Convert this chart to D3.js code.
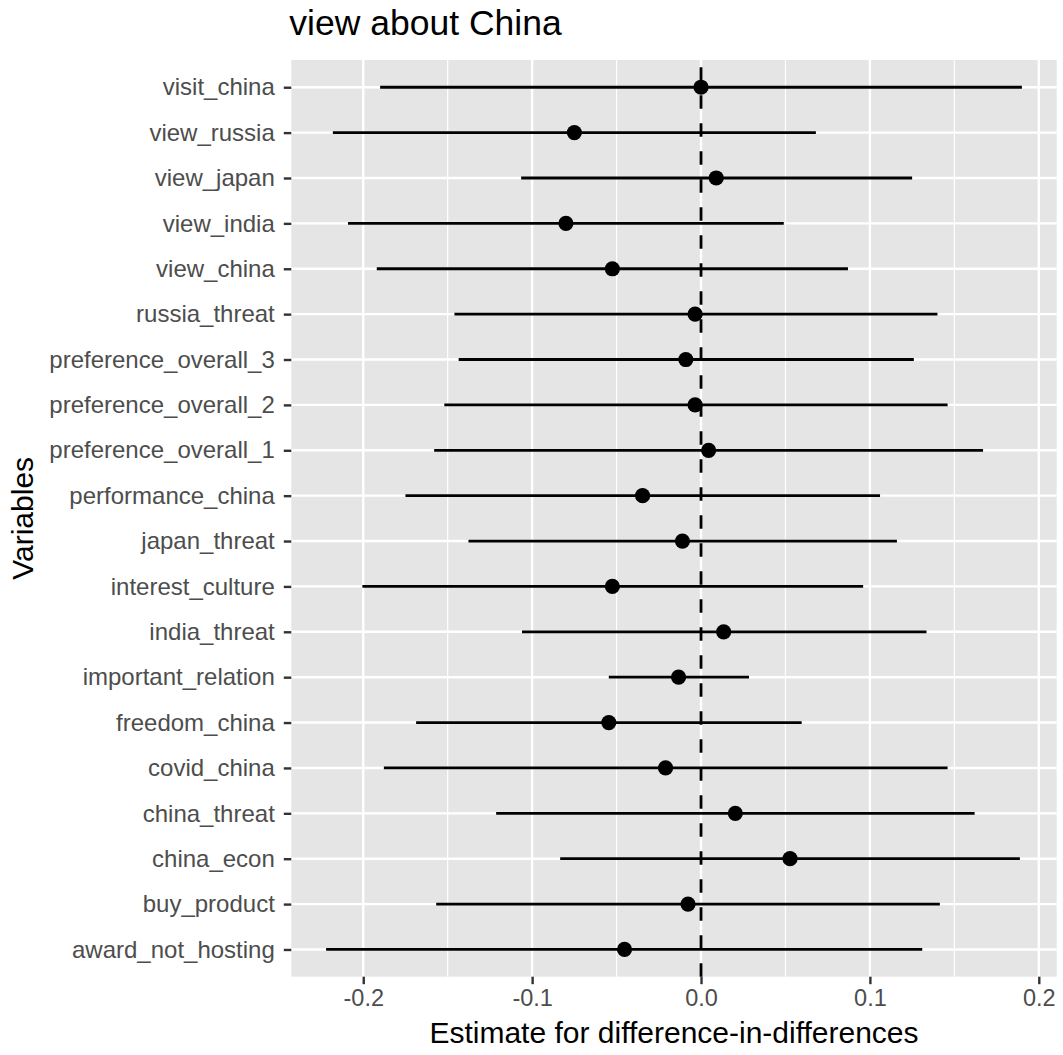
<!DOCTYPE html>
<html>
<head>
<meta charset="utf-8">
<script src="https://cdn.jsdelivr.net/npm/d3@7"></script>
<style>
  html, body { margin: 0; padding: 0; background: #ffffff; }
  svg { display: block; }
  text { font-family: "Liberation Sans", Arial, Helvetica, sans-serif; }
</style>
</head>
<body>
<svg id="chart" width="1063" height="1055"></svg>
<script>
// Difference-in-differences estimates with 95% intervals, listed top to bottom
const variables = [
  "visit_china", "view_russia", "view_japan", "view_india", "view_china",
  "russia_threat", "preference_overall_3", "preference_overall_2", "preference_overall_1",
  "performance_china", "japan_threat", "interest_culture", "india_threat",
  "important_relation", "freedom_china", "covid_china", "china_threat",
  "china_econ", "buy_product", "award_not_hosting"
];
const estimates = [
  0.000, -0.075, 0.009, -0.080, -0.0525,
  -0.0035, -0.009, -0.0035, 0.0045,
  -0.0346, -0.011, -0.0525, 0.0134,
  -0.0133, -0.0546, -0.021, 0.0203,
  0.0527, -0.0077, -0.0453
];
const lower = [
  -0.190, -0.218, -0.1065, -0.209, -0.192,
  -0.146, -0.1435, -0.152, -0.158,
  -0.175, -0.1377, -0.2005, -0.106,
  -0.0546, -0.1687, -0.1878, -0.1213,
  -0.0834, -0.1568, -0.222
];
const upper = [
  0.190, 0.068, 0.125, 0.049, 0.087,
  0.140, 0.126, 0.146, 0.167,
  0.106, 0.116, 0.096, 0.1335,
  0.0284, 0.0596, 0.146, 0.162,
  0.1888, 0.1414, 0.131
];
const xTicks = [-0.2, -0.1, 0.0, 0.1, 0.2];
const xTickLabels = ["-0.2", "-0.1", "0.0", "0.1", "0.2"];
const xMinorTicks = [-0.15, -0.05, 0.05, 0.15];
const titleText = "view about China";
const xTitle = "Estimate for difference-in-differences";
const yTitle = "Variables";

const rows = variables.map((v, i) => ({ v, est: estimates[i], lo: lower[i], hi: upper[i] }));

const svg = d3.select("#chart");
const panel = { left: 291.3, right: 1056.7, top: 60, bottom: 976.7 };

// continuous axis with 5% expansion on each side
const lo = d3.min(lower), hi = d3.max(upper);
const pad = (hi - lo) * 0.05;
const x = d3.scaleLinear().domain([lo - pad, hi + pad]).range([panel.left, panel.right]);
const y = d3.scalePoint().domain(variables).range([panel.top, panel.bottom]).padding(0.6);

// panel background
svg.append("rect")
  .attr("x", panel.left).attr("y", panel.top)
  .attr("width", panel.right - panel.left).attr("height", panel.bottom - panel.top)
  .attr("fill", "#E5E5E5");

const grid = svg.append("g");
grid.selectAll("line.minor").data(xMinorTicks).join("line")
  .attr("x1", d => x(d)).attr("x2", d => x(d))
  .attr("y1", panel.top).attr("y2", panel.bottom)
  .attr("stroke", "#ffffff").attr("stroke-width", 1.2);
grid.selectAll("line.majorx").data(xTicks).join("line")
  .attr("x1", d => x(d)).attr("x2", d => x(d))
  .attr("y1", panel.top).attr("y2", panel.bottom)
  .attr("stroke", "#ffffff").attr("stroke-width", 2.4);
grid.selectAll("line.majory").data(variables).join("line")
  .attr("x1", panel.left).attr("x2", panel.right)
  .attr("y1", d => y(d)).attr("y2", d => y(d))
  .attr("stroke", "#ffffff").attr("stroke-width", 2.4);

// reference line at zero, dashed, drawn from the bottom up
svg.append("line")
  .attr("x1", x(0)).attr("x2", x(0))
  .attr("y1", panel.bottom).attr("y2", panel.top)
  .attr("stroke", "#000000").attr("stroke-width", 2.8)
  .attr("stroke-dasharray", "13.5,14.5");

// interval lines
svg.append("g").selectAll("line").data(rows).join("line")
  .attr("x1", d => x(d.lo)).attr("x2", d => x(d.hi))
  .attr("y1", d => y(d.v)).attr("y2", d => y(d.v))
  .attr("stroke", "#000000").attr("stroke-width", 2.8);

// point estimates
svg.append("g").selectAll("circle").data(rows).join("circle")
  .attr("cx", d => x(d.est)).attr("cy", d => y(d.v))
  .attr("r", 7.6).attr("fill", "#000000");

// x axis
const xAxis = svg.append("g")
  .attr("transform", `translate(0,${panel.bottom})`)
  .call(d3.axisBottom(x).tickValues(xTicks)
    .tickFormat((d, i) => xTickLabels[i])
    .tickSizeOuter(0).tickSize(7.5).tickPadding(5));
xAxis.select(".domain").remove();
xAxis.selectAll(".tick line").attr("stroke", "#333333").attr("stroke-width", 2.4);
xAxis.selectAll(".tick text")
  .attr("fill", "#4D4D4D").attr("font-size", "23.5px");

// y axis
const yAxis = svg.append("g")
  .attr("transform", `translate(${panel.left},0)`)
  .call(d3.axisLeft(y).tickSizeOuter(0).tickSize(7.5).tickPadding(9));
yAxis.select(".domain").remove();
yAxis.selectAll(".tick line").attr("stroke", "#333333").attr("stroke-width", 2.4);
yAxis.selectAll(".tick text")
  .attr("fill", "#4D4D4D").attr("font-size", "24px");

// titles
svg.append("text")
  .attr("x", panel.left - 2).attr("y", 35)
  .attr("font-size", "35.5px").attr("fill", "#000000")
  .text(titleText);

svg.append("text")
  .attr("x", (panel.left + panel.right) / 2).attr("y", 1043)
  .attr("text-anchor", "middle")
  .attr("font-size", "30px").attr("fill", "#000000")
  .text(xTitle);

svg.append("text")
  .attr("transform", `translate(33,${(panel.top + panel.bottom) / 2}) rotate(-90)`)
  .attr("text-anchor", "middle")
  .attr("font-size", "30px").attr("fill", "#000000")
  .text(yTitle);
</script>
</body>
</html>
